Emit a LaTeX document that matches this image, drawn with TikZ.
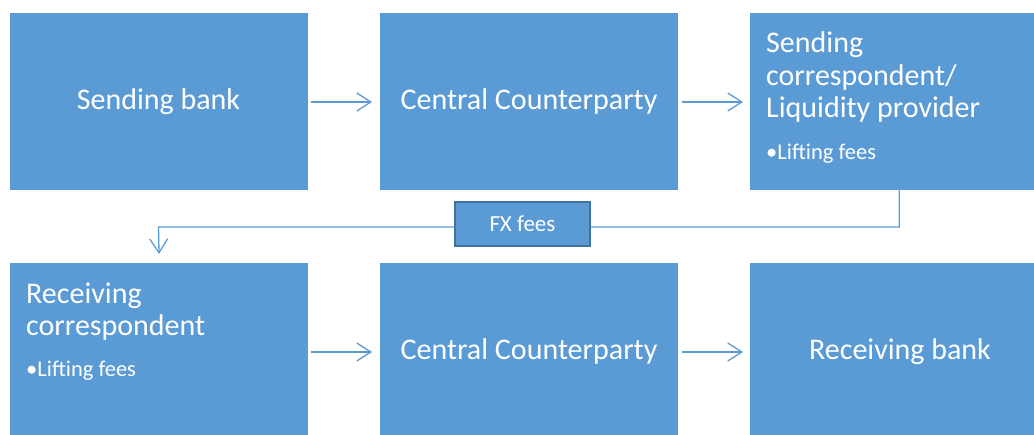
\documentclass[tikz,border=0pt]{standalone}
\usepackage{fontspec}
\setmainfont{Carlito}
\usetikzlibrary{arrows.meta}
\definecolor{boxblue}{HTML}{5B9BD5}
\definecolor{boxedge}{HTML}{41719C}
\begin{document}
\begin{tikzpicture}[x=1pt,y=-1pt,
  box/.style={fill=boxblue, draw=none, inner sep=0pt, minimum width=298pt, minimum height=177pt, anchor=north west},
  ctr/.style={text=white, inner sep=0pt, anchor=base, font=\fontsize{30}{32}\selectfont},
  lbl/.style={text=white, inner sep=0pt, align=left, anchor=base west, font=\fontsize{30}{32.5}\selectfont},
  sub/.style={text=white, inner sep=0pt, anchor=base west, font=\fontsize{22.5}{26}\selectfont},
  flow/.style={draw=boxblue, line width=1.3pt, -{Straight Barb[length=14pt,width=18pt,line width=1.3pt]}},
  fx/.style={fill=boxblue, draw=boxedge, line width=1.6pt, minimum width=135pt, minimum height=44pt, inner sep=0pt,
    text=white, font=\fontsize{23}{26}\selectfont}]
\useasboundingbox (0,0) rectangle (1034,435);
% top row
\node[box] (b1) at (10,13) {};
\node[box] (b2) at (380,13) {};
\node[box] (b3) at (750,13) {};
% bottom row
\node[box] (b4) at (10,263) {};
\node[box] (b5) at (380,263) {};
\node[box] (b6) at (750,263) {};
% texts
\node[ctr] (t1) at (158.5,110) {Sending bank};
\node[ctr] (t2) at (529,110) {Central Counterparty};
\node[lbl] (t3) at (766,118) {Sending\\correspondent/\\Liquidity provider};
\node[sub] (s3) at (766,160) {•Lifting fees};
\node[lbl] (t4) at (26,336) {Receiving\\correspondent};
\node[sub] (s4) at (26,377) {•Lifting fees};
\node[ctr] (t5) at (529,360) {Central Counterparty};
\node[ctr] (t6) at (900,360) {Receiving bank};
% arrows
\coordinate (a1s) at (311,102); \coordinate (a1e) at (372,102);
\draw[flow] (a1s) -- (a1e);
\coordinate (a2s) at (682,102); \coordinate (a2e) at (743,102);
\draw[flow] (a2s) -- (a2e);
\coordinate (a3s) at (311,352); \coordinate (a3e) at (372,352);
\draw[flow] (a3s) -- (a3e);
\coordinate (a4s) at (682,352); \coordinate (a4e) at (743,352);
\draw[flow] (a4s) -- (a4e);
% return connector
\coordinate (turn) at (158.5,227);
\draw[flow, shorten >=9pt] (b3.south) |- (turn) -- (b4.north);
\node[fx] (fx) at (522.5,224) {FX fees};
\end{tikzpicture}
\end{document}
